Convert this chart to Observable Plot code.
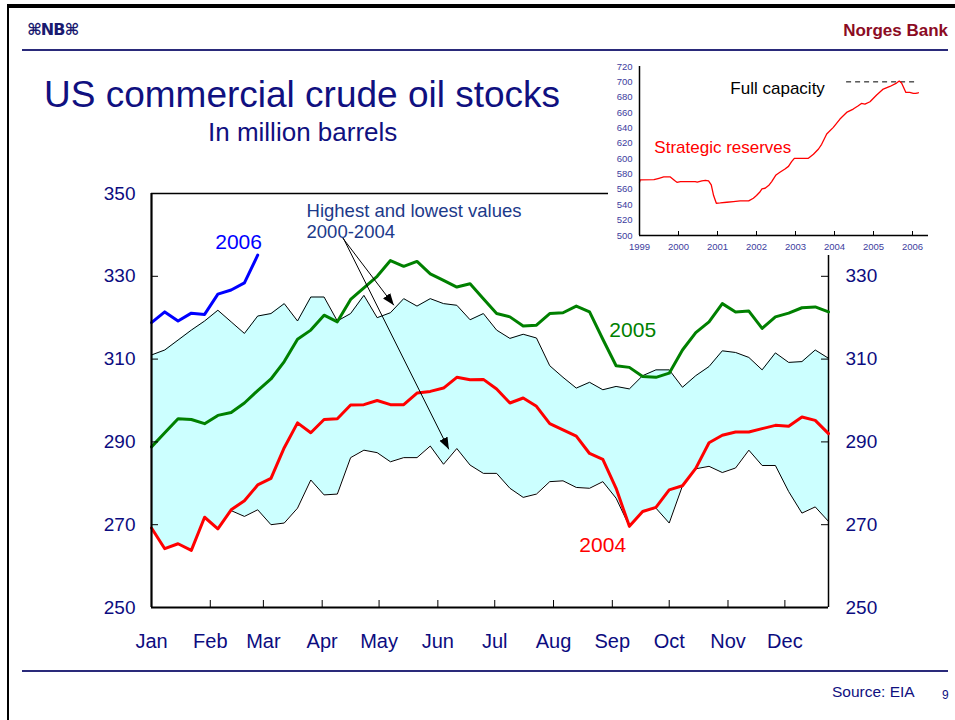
<!DOCTYPE html>
<html><head><meta charset="utf-8">
<script src="https://cdn.jsdelivr.net/npm/d3@7"></script>
<script src="https://cdn.jsdelivr.net/npm/@observablehq/plot@0.6"></script>
<style>
body{margin:0;background:#fff;font-family:"Liberation Sans",Arial,sans-serif;}
#page{position:relative;width:955px;height:720px;overflow:hidden;background:#fff;}
.abs{position:absolute;white-space:nowrap;}
</style></head>
<body><div id="page">
<div class="abs" style="left:8px;top:4px;width:947px;height:4px;background:#000"></div>
<div class="abs" style="left:7px;top:4px;width:2px;height:716px;background:#000"></div>
<div class="abs" style="left:27px;top:22px;font-size:16px;line-height:16px;color:#1a1a70;font-weight:bold;font-family:'DejaVu Sans',sans-serif;letter-spacing:-1px">⌘NB⌘</div>
<div class="abs" style="right:7px;top:22px;font-size:17px;line-height:17px;color:#8b0b23;font-weight:bold">Norges Bank</div>
<div class="abs" style="left:22px;top:49px;width:926px;height:2px;background:#2a2a7a"></div>
<div class="abs" style="left:44px;top:76px;font-size:37px;line-height:37px;color:#101080">US commercial crude oil stocks</div>
<div class="abs" style="left:208px;top:119px;font-size:26px;line-height:26px;color:#101080">In million barrels</div>
<div class="abs" style="left:22px;top:670px;width:926px;height:2px;background:#2a2a7a"></div>
<div class="abs" style="left:832px;top:684px;font-size:15.5px;line-height:16px;color:#101080">Source: EIA</div>
<div class="abs" style="left:942px;top:689px;font-size:12px;line-height:12px;color:#101080">9</div>
</div>
<script>
// ---- Main chart data (weekly, 52 weeks) ----
const high2000_04 = [311.0, 312.2, 314.6, 317.0, 319.2, 321.8, 319.0, 316.2, 320.4, 321.0, 323.4, 319.2, 325.0, 325.0, 319.2, 321.0, 325.4, 320.0, 321.2, 324.6, 322.8, 324.6, 323.4, 323.0, 319.5, 321.0, 317.0, 315.0, 316.0, 315.1, 308.4, 305.6, 303.0, 304.4, 302.6, 303.4, 302.8, 306.0, 307.4, 307.4, 303.2, 306.0, 308.2, 312.0, 311.6, 310.4, 307.4, 311.5, 309.2, 309.4, 312.2, 310.2];
const low2000_04 = [269.2, 264.2, 265.4, 263.8, 271.8, 269.0, 273.4, 272.0, 273.6, 270.0, 270.4, 274.0, 280.8, 277.2, 277.4, 286.2, 288.0, 287.4, 285.2, 286.2, 286.2, 289.0, 284.6, 288.4, 284.4, 282.4, 282.4, 278.8, 276.6, 277.4, 280.4, 280.6, 279.0, 278.8, 280.4, 276.4, 269.6, 273.2, 274.0, 270.4, 279.4, 283.5, 284.1, 282.6, 283.7, 288.0, 284.3, 284.3, 278.0, 272.8, 274.3, 270.8];
const y2004 = [269.2, 264.2, 265.4, 263.8, 271.8, 269.0, 273.6, 275.8, 279.6, 281.2, 288.6, 294.6, 292.2, 295.4, 295.6, 298.9, 299.0, 300.0, 299.0, 299.0, 301.8, 302.2, 303.0, 305.6, 305.0, 305.1, 302.8, 299.4, 300.6, 298.6, 294.4, 292.9, 291.4, 287.2, 285.8, 278.8, 269.6, 273.2, 274.2, 278.4, 279.4, 283.6, 289.8, 291.6, 292.4, 292.4, 293.2, 294.0, 293.8, 296.0, 295.2, 292.0];
const y2005 = [288.8, 292.2, 295.6, 295.4, 294.4, 296.4, 297.1, 299.4, 302.4, 305.2, 309.4, 314.8, 317.0, 320.6, 319.0, 324.4, 327.2, 330.0, 333.8, 332.4, 333.6, 330.6, 329.0, 327.4, 328.2, 324.6, 321.0, 320.2, 318.0, 318.2, 321.0, 321.2, 322.8, 321.4, 314.8, 308.4, 308.0, 305.8, 305.6, 306.6, 312.2, 316.4, 319.0, 323.4, 321.4, 321.6, 317.4, 320.2, 321.1, 322.4, 322.6, 321.4];
const y2006 = [318.8, 321.4, 319.2, 321.1, 320.8, 325.7, 326.7, 328.4, 335.1];
const yTicks = [250, 270, 290, 310, 330, 350];
const monthStartDays = [0, 31, 59, 90, 120, 151, 181, 212, 243, 273, 304, 334];
const monthLabels = ["Jan", "Feb", "Mar", "Apr", "May", "Jun", "Jul", "Aug", "Sep", "Oct", "Nov", "Dec"];

// ---- Inset data (strategic reserves) ----
const sprDate = [1999.0, 1999.02, 1999.37, 1999.5, 1999.62, 1999.79, 1999.9, 1999.96, 2000.05, 2000.43, 2000.48, 2000.6, 2000.69, 2000.77, 2000.84, 2000.9, 2000.97, 2001.07, 2001.24, 2001.41, 2001.58, 2001.8, 2001.92, 2002.0, 2002.08, 2002.14, 2002.22, 2002.31, 2002.39, 2002.5, 2002.6, 2002.73, 2002.82, 2002.9, 2002.97, 2003.12, 2003.33, 2003.46, 2003.59, 2003.67, 2003.8, 2003.97, 2004.14, 2004.31, 2004.48, 2004.61, 2004.69, 2004.78, 2004.91, 2005.08, 2005.25, 2005.42, 2005.59, 2005.66, 2005.72, 2005.83, 2005.93, 2006.02, 2006.08, 2006.15];
const sprValue = [569.3, 572.5, 572.8, 574.5, 576.2, 576.2, 571.5, 569.3, 570.2, 570.2, 569.5, 571.0, 571.9, 571.0, 565.8, 552.0, 542.0, 542.4, 543.3, 544.2, 545.0, 545.0, 548.5, 552.0, 556.3, 560.6, 561.5, 565.0, 570.2, 578.8, 582.3, 586.6, 590.0, 596.1, 600.5, 600.5, 600.5, 605.7, 612.6, 618.7, 632.1, 640.8, 651.6, 660.2, 664.6, 668.9, 671.9, 671.1, 674.1, 682.8, 690.6, 694.0, 698.4, 701.0, 698.4, 686.2, 686.2, 684.9, 684.9, 685.8];
const insetYTicks = [500, 520, 540, 560, 580, 600, 620, 640, 660, 680, 700, 720];
const insetYears = [1999, 2000, 2001, 2002, 2003, 2004, 2005, 2006];
const fullCapacity = [700];
const fullCapacitySpan = [2004.31, 2006.1];

const FONT = "'Liberation Sans', Arial, sans-serif";
const NAVY = "#0c0c80";

const weekOf = d => d / 7;
const monthWeeks = monthStartDays.map(weekOf);
const rows = high2000_04.map((h, i) => ({i, hi: h, lo: low2000_04[i], y04: y2004[i], y05: y2005[i]}));
const rows06 = y2006.map((v, i) => ({i, v}));

function filledArrow(color) {
  const ns = "http://www.w3.org/2000/svg";
  const m = document.createElementNS(ns, "marker");
  m.setAttribute("viewBox", "-12 -5 12 10");
  m.setAttribute("markerWidth", 12);
  m.setAttribute("markerHeight", 10);
  m.setAttribute("markerUnits", "userSpaceOnUse");
  m.setAttribute("orient", "auto");
  m.setAttribute("refX", 0);
  m.setAttribute("refY", 0);
  m.setAttribute("fill", color);
  m.setAttribute("stroke", "none");
  const p = document.createElementNS(ns, "path");
  p.setAttribute("d", "M0,0L-12,-4.5L-12,4.5Z");
  m.appendChild(p);
  return m;
}

const arrows = [
  {x1: 14.37, y1: 339.4, x2: 18.26, y2: 323.0},
  {x1: 14.45, y1: 339.2, x2: 22.4, y2: 288.2}
];

const main = Plot.plot({
  width: 955, height: 520,
  marginLeft: 151, marginRight: 127, marginTop: 43, marginBottom: 63,
  style: {fontFamily: FONT, background: "transparent", color: NAVY, overflow: "visible"},
  x: {domain: [0, 51]},
  y: {domain: [250, 350]},
  marks: [
    Plot.areaY(rows, {x: "i", y1: "lo", y2: "hi", fill: "#ccffff"}),
    Plot.ruleY([350], {stroke: "#000", strokeWidth: 1.5}),
    Plot.ruleX([51], {stroke: "#000", strokeWidth: 1.5}),
    Plot.line(rows, {x: "i", y: "hi", stroke: "#000", strokeWidth: 1, strokeLinejoin: "miter"}),
    Plot.line(rows, {x: "i", y: "lo", stroke: "#000", strokeWidth: 1, strokeLinejoin: "miter"}),
    Plot.line(rows, {x: "i", y: "y04", stroke: "#ff0000", strokeWidth: 3}),
    Plot.line(rows, {x: "i", y: "y05", stroke: "#008000", strokeWidth: 3}),
    Plot.line(rows06, {x: "i", y: "v", stroke: "#0000ff", strokeWidth: 3}),
    Plot.link(arrows, {x1: "x1", y1: "y1", x2: "x2", y2: "y2", stroke: "#000", strokeWidth: 1, markerEnd: filledArrow}),
    Plot.ruleX([0], {stroke: "#000", strokeWidth: 2.2}),
    Plot.ruleY([250], {stroke: "#000", strokeWidth: 2.2}),
    Plot.tickY(yTicks, {y: d => d, insetRight: 670, stroke: "#000", strokeWidth: 1}),
    Plot.tickY(yTicks, {y: d => d, insetLeft: 670, stroke: "#000", strokeWidth: 1}),
    Plot.tickX(monthWeeks, {x: d => d, insetTop: 407, stroke: "#000", strokeWidth: 1}),
    Plot.axisY({ticks: yTicks, anchor: "left", tickSize: 0, tickPadding: 16, fontSize: 19, tickFormat: d => String(d), label: null}),
    Plot.axisY({ticks: yTicks, anchor: "right", tickSize: 0, tickPadding: 17, fontSize: 19, tickFormat: d => String(d), label: null}),
    Plot.axisX({ticks: monthWeeks, anchor: "bottom", tickSize: 0, tickPadding: 26, fontSize: 20, tickFormat: d => monthLabels[monthWeeks.indexOf(d)], label: null}),
    Plot.text(["2006"], {x: 6.56, y: 338.2, text: d => d, fill: "#0000ff", fontSize: 21}),
    Plot.text(["2005"], {x: 36.25, y: 316.9, text: d => d, fill: "#008000", fontSize: 21}),
    Plot.text(["2004"], {x: 33.99, y: 265.0, text: d => d, fill: "#ff0000", fontSize: 21}),
    Plot.text(["Highest and lowest values\n2000-2004"], {x: 11.68, y: 343.36, text: d => d, fill: "#1c3a8a", fontSize: 18.5, textAnchor: "start", lineHeight: 1.135})
  ]
});
main.style.position = "absolute";
main.style.left = "0px";
main.style.top = "150px";
main.style.maxWidth = "none";
document.getElementById("page").appendChild(main);

const sprRows = sprDate.map((t, i) => ({t, v: sprValue[i]}));
const inset = Plot.plot({
  width: 347, height: 200,
  marginLeft: 31, marginRight: 27, marginTop: 11, marginBottom: 20,
  style: {fontFamily: FONT, background: "#fff", color: "#3d3d9e", overflow: "visible"},
  x: {domain: [1999, 2006.41]},
  y: {domain: [500, 720]},
  marks: [
    Plot.ruleY(fullCapacity, {x1: fullCapacitySpan[0], x2: fullCapacitySpan[1], stroke: "#000", strokeWidth: 1, strokeDasharray: "5,4"}),
    Plot.line(sprRows, {x: "t", y: "v", stroke: "#ff0000", strokeWidth: 1.3}),
    Plot.ruleX([1999], {stroke: "#000", strokeWidth: 1.5}),
    Plot.ruleY([500], {stroke: "#000", strokeWidth: 1.5}),
    Plot.tickX(insetYears, {x: d => d, insetTop: 165, stroke: "#000", strokeWidth: 1}),
    Plot.axisY({ticks: insetYTicks, anchor: "left", tickSize: 0, tickPadding: 7, fontSize: 9.5, tickFormat: d => String(d), label: null}),
    Plot.axisX({ticks: insetYears, anchor: "bottom", tickSize: 0, tickPadding: 8, fontSize: 9.5, tickFormat: d => String(d), label: null}),
    Plot.text(["Full capacity"], {x: 2001.33, y: 690.9, text: d => d, fill: "#000", fontSize: 17, textAnchor: "start"}),
    Plot.text(["Strategic reserves"], {x: 1999.38, y: 614.4, text: d => d, fill: "#ff0000", fontSize: 17, textAnchor: "start"})
  ]
});
inset.style.position = "absolute";
inset.style.left = "608px";
inset.style.top = "55px";
inset.style.maxWidth = "none";
document.getElementById("page").appendChild(inset);
</script>
</body></html>
